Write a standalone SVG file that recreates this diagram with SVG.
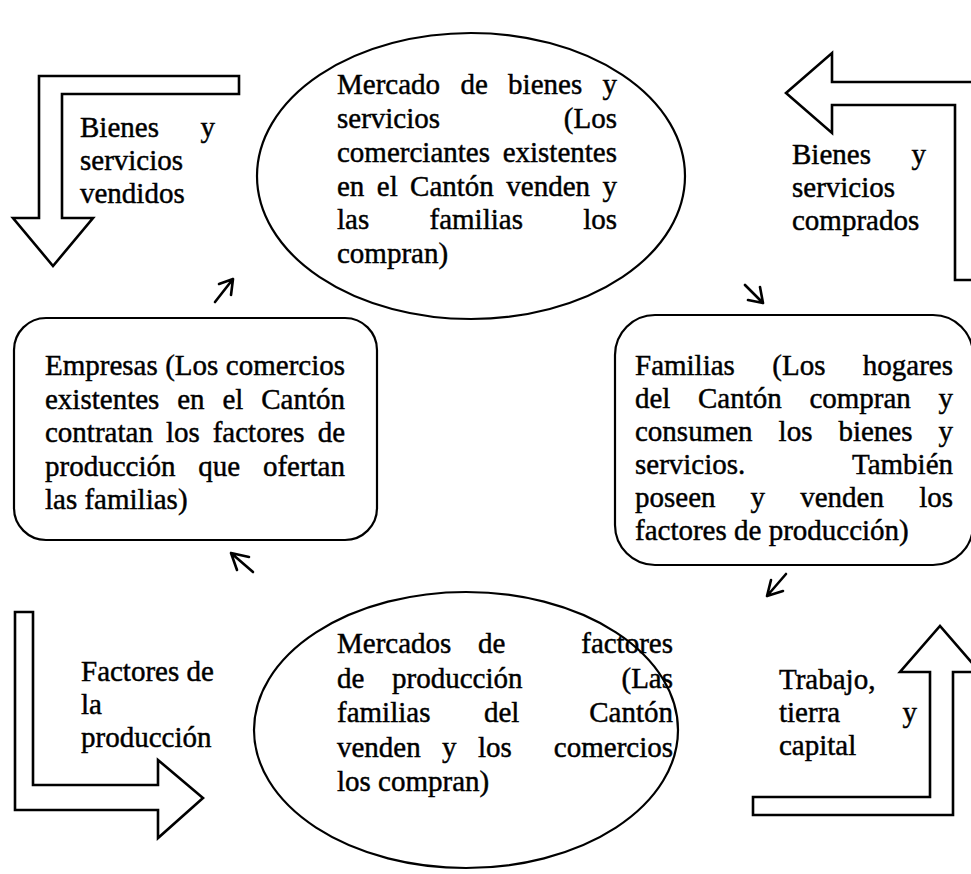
<svg xmlns="http://www.w3.org/2000/svg" width="971" height="874" viewBox="0 0 971 874">
<style>
.t{font-family:"Liberation Serif","Times New Roman",serif;font-size:29px;fill:#000;stroke:#000;stroke-width:0.45}
.e{text-anchor:end}
.shape{fill:#fff;stroke:#000;stroke-width:2.2}
.big{fill:#fff;stroke:#000;stroke-width:2.6;stroke-linejoin:miter}
.small{fill:none;stroke:#000;stroke-width:2.6;stroke-linecap:round;stroke-linejoin:round}
</style>
<rect width="971" height="874" fill="#fff"/>

<g id="connectors">
  <path class="big" d="M39 218 L39 76 L239 76 L239 94 L62 94 L62 218 L93 218 L53 266 L13 218 Z"/>
  <path class="big" d="M980 82 L832 82 L832 53 L786 93 L832 133 L832 105 L955 105 L955 280 L980 280"/>
  <path class="big" d="M15 612 L33 612 L33 785 L158 785 L158 760 L203 798 L158 838 L158 810 L15 810 Z"/>
  <path class="big" d="M753 797 L930 797 L930 672 L900 672 L940 626 L980 672 L953 672 L953 815 L753 815 Z"/>
  <path class="small" d="M215 302 L233 279 M219 284 L233 279 L231 295"/>
  <path class="small" d="M253 572 L231 553 M249 557 L231 553 L237 570"/>
  <path class="small" d="M745 285 L763 303 M760 287 L763 303 L748 300"/>
  <path class="small" d="M786 574 L767 596 M771 580 L767 596 L783 591"/>
</g>

<g id="label-vendidos">
  <text class="t" x="80" y="137">Bienes</text>
  <text class="t e" x="215" y="137">y</text>
  <text class="t" x="80" y="170">servicios</text>
  <text class="t" x="80" y="203">vendidos</text>
</g>
<g id="label-comprados">
  <text class="t" x="792" y="164">Bienes</text>
  <text class="t e" x="926" y="164">y</text>
  <text class="t" x="792" y="197">servicios</text>
  <text class="t" x="792" y="230">comprados</text>
</g>
<g id="label-factores">
  <text class="t" x="81" y="681">Factores de</text>
  <text class="t" x="81" y="714">la</text>
  <text class="t" x="81" y="747">producción</text>
</g>
<g id="label-trabajo">
  <text class="t" x="779" y="689">Trabajo,</text>
  <text class="t" x="779" y="722">tierra</text>
  <text class="t e" x="917" y="722">y</text>
  <text class="t" x="779" y="755">capital</text>
</g>

<g id="mercado-bienes">
  <ellipse class="shape" cx="471" cy="176" rx="214" ry="143"/>
  <text class="t" y="94"><tspan x="337">Mercado</tspan><tspan x="460.4">de</tspan><tspan x="508.1">bienes</tspan></text>
  <text class="t e" x="617" y="94">y</text>
  <text class="t" x="337" y="128">servicios</text>
  <text class="t e" x="617" y="128">(Los</text>
  <text class="t" x="337" y="162">comerciantes</text>
  <text class="t e" x="617" y="162">existentes</text>
  <text class="t" y="196"><tspan x="337">en</tspan><tspan x="376.8">el</tspan><tspan x="410.1">Cantón</tspan><tspan x="506.3">venden</tspan></text>
  <text class="t e" x="617" y="196">y</text>
  <text class="t" y="229"><tspan x="337">las</tspan><tspan x="429.5">familias</tspan></text>
  <text class="t e" x="617" y="229">los</text>
  <text class="t" x="337" y="263">compran)</text>
</g>

<g id="empresas">
  <rect class="shape" x="14" y="318" width="363" height="222" rx="32"/>
  <text class="t" y="375"><tspan x="45">Empresas</tspan><tspan x="165.2">(Los</tspan></text>
  <text class="t e" x="345" y="375">comercios</text>
  <text class="t" y="408.5"><tspan x="45">existentes</tspan><tspan x="177.2">en</tspan><tspan x="222.4">el</tspan></text>
  <text class="t e" x="345" y="408.5">Cantón</text>
  <text class="t" y="442"><tspan x="45">contratan</tspan><tspan x="165.9">los</tspan><tspan x="212.7">factores</tspan></text>
  <text class="t e" x="345" y="442">de</text>
  <text class="t" x="45" y="475.5">producción</text>
  <text class="t" x="198.3" y="475.5">que</text>
  <text class="t e" x="345" y="475.5">ofertan</text>
  <text class="t" x="45" y="509">las familias)</text>
</g>

<g id="familias">
  <rect class="shape" x="615" y="315" width="358" height="250" rx="40"/>
  <text class="t" y="375"><tspan x="635">Familias</tspan><tspan x="772.3">(Los</tspan></text>
  <text class="t e" x="953" y="375">hogares</text>
  <text class="t" y="408"><tspan x="635">del</tspan><tspan x="698">Cantón</tspan><tspan x="809.4">compran</tspan></text>
  <text class="t e" x="953" y="408">y</text>
  <text class="t" y="441"><tspan x="635">consumen</tspan><tspan x="778.6">los</tspan><tspan x="838.4">bienes</tspan></text>
  <text class="t e" x="953" y="441">y</text>
  <text class="t" x="635" y="474">servicios.</text>
  <text class="t e" x="953" y="474">También</text>
  <text class="t" y="507"><tspan x="635">poseen</tspan><tspan x="750.6">y</tspan><tspan x="800.2">venden</tspan></text>
  <text class="t e" x="953" y="507">los</text>
  <text class="t" x="635" y="540">factores de producción)</text>
</g>

<g id="mercados-factores">
  <ellipse class="shape" cx="466" cy="730" rx="212" ry="138"/>
  <text class="t" y="653"><tspan x="337">Mercados</tspan><tspan x="478">de</tspan></text>
  <text class="t e" x="673" y="653">factores</text>
  <text class="t" y="688"><tspan x="337">de</tspan><tspan x="392">producción</tspan></text>
  <text class="t e" x="673" y="688">(Las</text>
  <text class="t" y="722"><tspan x="337">familias</tspan><tspan x="484">del</tspan></text>
  <text class="t e" x="673" y="722">Cantón</text>
  <text class="t" y="757"><tspan x="337">venden</tspan><tspan x="442">y</tspan><tspan x="478">los</tspan></text>
  <text class="t e" x="673" y="757">comercios</text>
  <text class="t" x="337" y="791">los compran)</text>
</g>
</svg>
